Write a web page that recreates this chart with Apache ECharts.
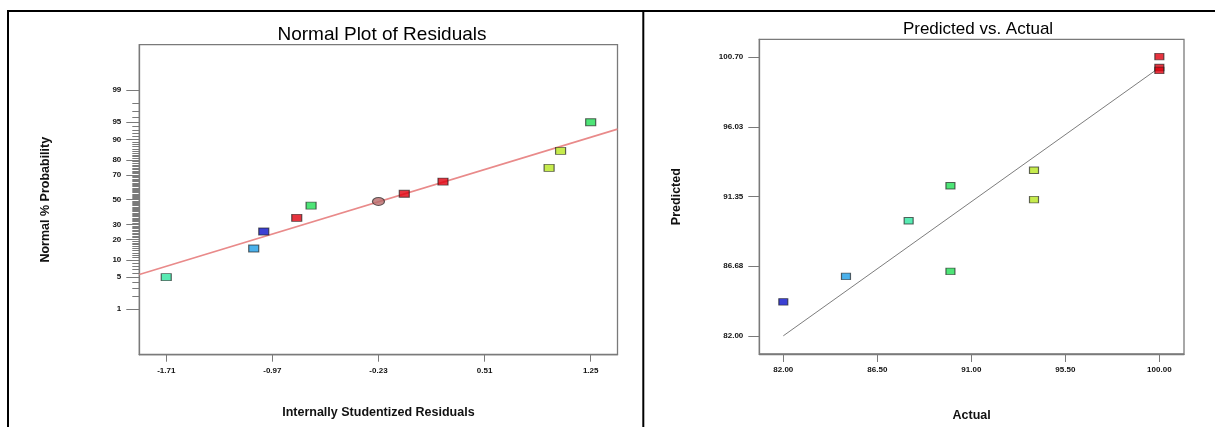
<!DOCTYPE html>
<html>
<head>
<meta charset="utf-8">
<script src="https://cdn.jsdelivr.net/npm/echarts@6/dist/echarts.min.js"></script>
<style>
  html, body { margin: 0; padding: 0; background: #ffffff; }
  #chart { width: 1215px; height: 427px; }
</style>
</head>
<body>
<div id="chart"></div>
<script>
// ---- Normal plot of residuals ----
const residuals = [-1.71, -1.10, -1.03, -0.80, -0.70, -0.23, -0.05, 0.22, 0.96, 1.04, 1.25];
const normalProbability = [5, 15, 25, 35, 45, 48.5, 55, 65, 75, 85, 95];
const residualTicks = [-1.71, -0.97, -0.23, 0.51, 1.25];
const probabilityTicks = [1, 5, 10, 20, 30, 50, 70, 80, 90, 95, 99];
const probabilityMinorTicks = [2, 3, 4, 6, 7, 8, 9,
  11, 12, 13, 14, 15, 16, 17, 18, 19, 21, 22, 23, 24, 25, 26, 27, 28, 29,
  31, 32, 33, 34, 35, 36, 37, 38, 39, 40, 41, 42, 43, 44, 45, 46, 47, 48, 49,
  51, 52, 53, 54, 55, 56, 57, 58, 59, 60, 61, 62, 63, 64, 65, 66, 67, 68, 69,
  71, 72, 73, 74, 75, 76, 77, 78, 79, 81, 82, 83, 84, 85, 86, 87, 88, 89,
  91, 92, 93, 94, 96, 97, 98];
const fitLineResidual = [-1.898, 1.437];
const fitLineProbability = [5.6, 93.3];

// ---- Predicted vs. actual ----
const actual = [82, 85, 88, 90, 90, 94, 94, 100, 100, 100];
const predicted = [84.28, 85.99, 89.72, 92.07, 86.33, 93.11, 91.14, 100.74, 100.01, 99.81];
const actualTicks = [82.00, 86.50, 91.00, 95.50, 100.00];
const predictedTicks = [82.00, 86.68, 91.35, 96.03, 100.70];
const parityLine = [82, 100];

// point colours (style only)
const residualColors = ['#2EE6A0', '#1E9EE6', '#0A10C8', '#E0000E', '#22DD55', '#B86A6A',
  '#E0000E', '#E0000E', '#B8E620', '#B8E620', '#22DD55'];
const residualShapes = ['rect', 'rect', 'rect', 'rect', 'rect', 'circle',
  'rect', 'rect', 'rect', 'rect', 'rect'];
const actualColors = ['#0A10C8', '#1E9EE6', '#2EE6A0', '#22DD55', '#22DD55', '#B8E620',
  '#B8E620', '#E0000E', '#E0000E', '#E0000E'];

// inverse standard normal CDF (Acklam) -> probability axis scale
function probit(pct) {
  const p = pct / 100;
  const a = [-3.969683028665376e+01, 2.209460984245205e+02, -2.759285104469687e+02,
    1.383577518672690e+02, -3.066479806614716e+01, 2.506628277459239e+00];
  const b = [-5.447609879822406e+01, 1.615858368580409e+02, -1.556989798598866e+02,
    6.680131188771972e+01, -1.328068155288572e+01];
  const c = [-7.784894002430293e-03, -3.223964580411365e-01, -2.400758277161838e+00,
    -2.549671010496230e+00, 4.374664141464968e+00, 2.938163982698783e+00];
  const d = [7.784695709041462e-03, 3.224671290700398e-01, 2.445134137142996e+00,
    3.754408661907416e+00];
  const pl = 0.02425, ph = 1 - pl;
  let q, r;
  if (p < pl) {
    q = Math.sqrt(-2 * Math.log(p));
    return (((((c[0] * q + c[1]) * q + c[2]) * q + c[3]) * q + c[4]) * q + c[5]) /
      ((((d[0] * q + d[1]) * q + d[2]) * q + d[3]) * q + 1);
  }
  if (p <= ph) {
    q = p - 0.5; r = q * q;
    return (((((a[0] * r + a[1]) * r + a[2]) * r + a[3]) * r + a[4]) * r + a[5]) * q /
      (((((b[0] * r + b[1]) * r + b[2]) * r + b[3]) * r + b[4]) * r + 1);
  }
  q = Math.sqrt(-2 * Math.log(1 - p));
  return -(((((c[0] * q + c[1]) * q + c[2]) * q + c[3]) * q + c[4]) * q + c[5]) /
    ((((d[0] * q + d[1]) * q + d[2]) * q + d[3]) * q + 1);
}
const zLimit = probit(99.95);
const majorZ = probabilityTicks.map(probit);
const minorZ = probabilityMinorTicks.map(probit);
function probLabel(z) {
  let best = 0, bestD = Infinity;
  majorZ.forEach((v, i) => { const dd = Math.abs(v - z); if (dd < bestD) { bestD = dd; best = i; } });
  return String(probabilityTicks[best]);
}

const sans = '"Liberation Sans", Arial, sans-serif';
const axisGray = '#7a7a7a';
const tickLabel = { fontFamily: sans, fontWeight: 'bold', fontSize: 8, color: '#111' };
const nameStyle = { fontFamily: sans, fontWeight: 'bold', fontSize: 12.5, color: '#111' };

const chart = echarts.init(document.getElementById('chart'), null, { renderer: 'canvas' });

chart.setOption({
  backgroundColor: '#ffffff',
  animation: false,
  title: [
    { text: 'Normal Plot of Residuals', left: 377, top: 20, textAlign: 'center',
      textStyle: { fontFamily: sans, fontWeight: 'normal', fontSize: 19, color: '#000' } },
    { text: 'Predicted vs. Actual', left: 973, top: 16, textAlign: 'center',
      textStyle: { fontFamily: sans, fontWeight: 'normal', fontSize: 17, color: '#000' } }
  ],
  grid: [
    { left: 139.3, top: 44.7, width: 478.2, height: 310, show: true,
      borderColor: axisGray, borderWidth: 1.3, backgroundColor: 'transparent', containLabel: false },
    { left: 759.3, top: 39.3, width: 424.7, height: 317.4, show: true,
      borderColor: axisGray, borderWidth: 1.3, backgroundColor: 'transparent', containLabel: false }
  ],
  xAxis: [
    { type: 'value', gridIndex: 0, min: -1.898, max: 1.437,
      name: 'Internally Studentized Residuals', nameLocation: 'middle', nameGap: 51,
      nameTextStyle: nameStyle,
      axisLine: { show: true, onZero: false, lineStyle: { color: axisGray, width: 1.3 } },
      axisTick: { show: true, length: 7, customValues: residualTicks, lineStyle: { color: axisGray, width: 1 } },
      axisLabel: Object.assign({ margin: 12, customValues: residualTicks,
        formatter: v => v.toFixed(2) }, tickLabel),
      splitLine: { show: false } },
    { type: 'value', gridIndex: 1, min: 80.851, max: 101.18,
      name: 'Actual', nameLocation: 'middle', nameGap: 55,
      nameTextStyle: nameStyle,
      axisLine: { show: true, onZero: false, lineStyle: { color: axisGray, width: 1.3 } },
      axisTick: { show: true, length: 8, customValues: actualTicks, lineStyle: { color: axisGray, width: 1 } },
      axisLabel: Object.assign({ margin: 12, customValues: actualTicks,
        formatter: v => v.toFixed(2) }, tickLabel),
      splitLine: { show: false } }
  ],
  yAxis: [
    { type: 'value', gridIndex: 0, min: -zLimit, max: zLimit,
      name: 'Normal % Probability', nameLocation: 'middle', nameGap: 87, nameRotate: 90,
      nameTextStyle: nameStyle,
      axisLine: { show: true, onZero: false, lineStyle: { color: axisGray, width: 1.3 } },
      axisTick: { show: true, length: 13, customValues: majorZ, lineStyle: { color: axisGray, width: 1 } },
      axisLabel: Object.assign({ margin: 18, customValues: majorZ, formatter: probLabel }, tickLabel),
      splitLine: { show: false } },
    { type: 'value', gridIndex: 0, min: -zLimit, max: zLimit, position: 'left',
      axisLine: { show: false, onZero: false },
      axisTick: { show: true, length: 7, customValues: minorZ, lineStyle: { color: axisGray, width: 1 } },
      axisLabel: { show: false },
      splitLine: { show: false } },
    { type: 'value', gridIndex: 1, min: 80.78, max: 101.9,
      name: 'Predicted', nameLocation: 'middle', nameGap: 76, nameRotate: 90,
      nameTextStyle: nameStyle,
      axisLine: { show: true, onZero: false, lineStyle: { color: axisGray, width: 1.3 } },
      axisTick: { show: true, length: 11, customValues: predictedTicks, lineStyle: { color: axisGray, width: 1 } },
      axisLabel: Object.assign({ margin: 16, customValues: predictedTicks,
        formatter: v => v.toFixed(2) }, tickLabel),
      splitLine: { show: false } }
  ],
  series: [
    { type: 'line', xAxisIndex: 0, yAxisIndex: 0, silent: true, symbol: 'none', z: 2,
      lineStyle: { color: '#E98A8A', width: 1.6 },
      data: fitLineResidual.map((x, i) => [x, probit(fitLineProbability[i])]) },
    { type: 'scatter', xAxisIndex: 0, yAxisIndex: 0, z: 3,
      data: residuals.map((x, i) => ({
        value: [x, probit(normalProbability[i])],
        symbol: residualShapes[i],
        symbolSize: residualShapes[i] === 'circle' ? [12, 8] : [10, 7],
        itemStyle: { color: residualColors[i], borderColor: 'rgba(30,30,30,0.85)', borderWidth: 1 }
      })) },
    { type: 'line', xAxisIndex: 1, yAxisIndex: 2, silent: true, symbol: 'none', z: 2,
      lineStyle: { color: '#7d7d7d', width: 1 },
      data: parityLine.map(v => [v, v]) },
    { type: 'scatter', xAxisIndex: 1, yAxisIndex: 2, z: 3,
      data: actual.map((x, i) => ({
        value: [x, predicted[i]],
        symbol: 'rect',
        symbolSize: [9, 6.5],
        itemStyle: { color: actualColors[i], borderColor: 'rgba(30,30,30,0.85)', borderWidth: 1 }
      })) }
  ],
  graphic: [
    { type: 'line', silent: true, shape: { x1: 7, y1: 11, x2: 1215, y2: 11 },
      style: { stroke: '#000', lineWidth: 2 } },
    { type: 'line', silent: true, shape: { x1: 8, y1: 11, x2: 8, y2: 427 },
      style: { stroke: '#000', lineWidth: 2 } },
    { type: 'line', silent: true, shape: { x1: 643.3, y1: 11, x2: 643.3, y2: 427 },
      style: { stroke: '#000', lineWidth: 2 } }
  ]
});
</script>
</body>
</html>
